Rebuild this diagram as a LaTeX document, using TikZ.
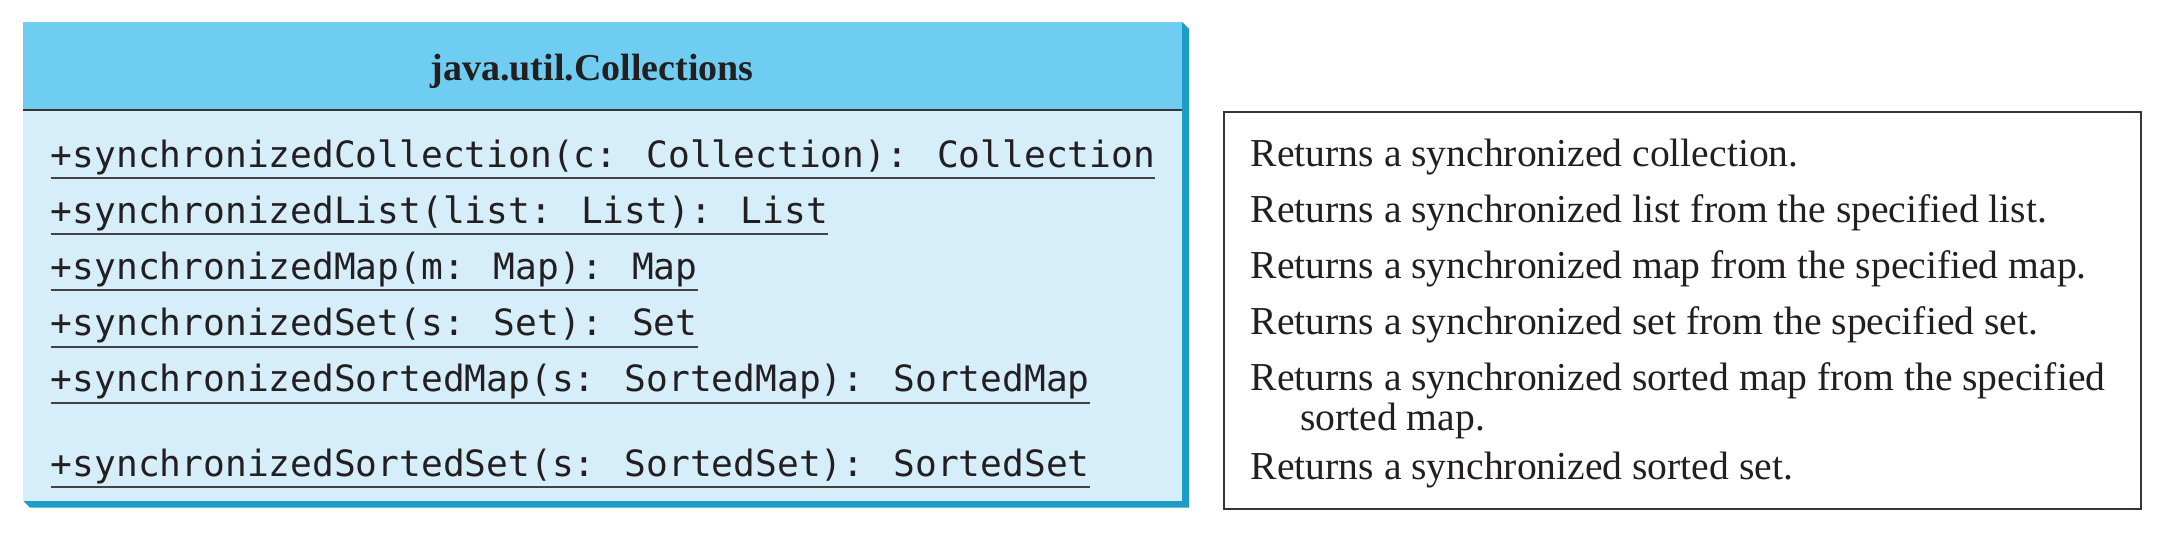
\documentclass[tikz,border=0pt]{standalone}
\usepackage{fontspec}
\setmainfont{Liberation Serif}
\newfontfamily\umlmono{DejaVu Sans Mono}
\definecolor{umlhdr}{HTML}{6FCDF2}
\definecolor{umlbody}{HTML}{D6EEFA}
\definecolor{umlshadow}{HTML}{1E9CC8}
\definecolor{ink}{HTML}{231F20}
\begin{document}
\begin{tikzpicture}[x=1pt,y=-1pt,
  method/.style={anchor=base west, inner sep=0pt, font=\umlmono\fontsize{36.2}{40}\selectfont, text=ink},
  desc/.style={anchor=base west, inner sep=0pt, font=\fontsize{39.6}{44}\selectfont, text=ink},
  uline/.style={draw=ink!85, line width=2pt}]
\useasboundingbox (0,0) rectangle (2162,541);
% UML class box
\fill[umlshadow] (1182,22) -- (1189,29) -- (1189,507.7) -- (30,507.7) -- (23,500.7) -- cycle;
\fill[umlbody] (23,110) rectangle (1182,500.7);
\fill[umlhdr] (23,22) rectangle (1182,110);
\draw[ink!90, line width=2pt] (23,110) -- (1182,110);
\node[anchor=base, inner sep=0pt, text=ink, font=\bfseries\fontsize{38}{40}\selectfont] (title) at (592,80) {java.util.Collections};
% methods
\node[method] (m1) at (50.7,167) {+synchronizedCollection(c: Collection): Collection};
\node[method] (m2) at (50.7,223.2) {+synchronizedList(list: List): List};
\node[method] (m3) at (50.7,279.4) {+synchronizedMap(m: Map): Map};
\node[method] (m4) at (50.7,335.6) {+synchronizedSet(s: Set): Set};
\node[method] (m5) at (50.7,391.8) {+synchronizedSortedMap(s: SortedMap): SortedMap};
\node[method] (m6) at (50.7,476.3) {+synchronizedSortedSet(s: SortedSet): SortedSet};
\foreach \m in {m1,m2,m3,m4,m5,m6}
  \draw[uline] ([yshift=-11pt]\m.base west) -- ([yshift=-11pt]\m.base east);
% description box
\node[draw=ink!90, line width=2pt, inner sep=0pt, minimum width=917pt, minimum height=396.7pt, anchor=north west] (descbox) at (1223,111) {};
\node[desc] (d1) at (1250.7,166) {Returns a synchronized collection.};
\node[desc] (d2) at (1250.7,222) {Returns a synchronized list from the specified list.};
\node[desc] (d3) at (1250.7,278) {Returns a synchronized map from the specified map.};
\node[desc] (d4) at (1250.7,334) {Returns a synchronized set from the specified set.};
\node[desc] (d5) at (1250.7,390) {Returns a synchronized sorted map from the specified};
\node[desc] (d5b) at (1300,430) {sorted map.};
\node[desc] (d6) at (1250.7,479) {Returns a synchronized sorted set.};
\end{tikzpicture}
\end{document}
